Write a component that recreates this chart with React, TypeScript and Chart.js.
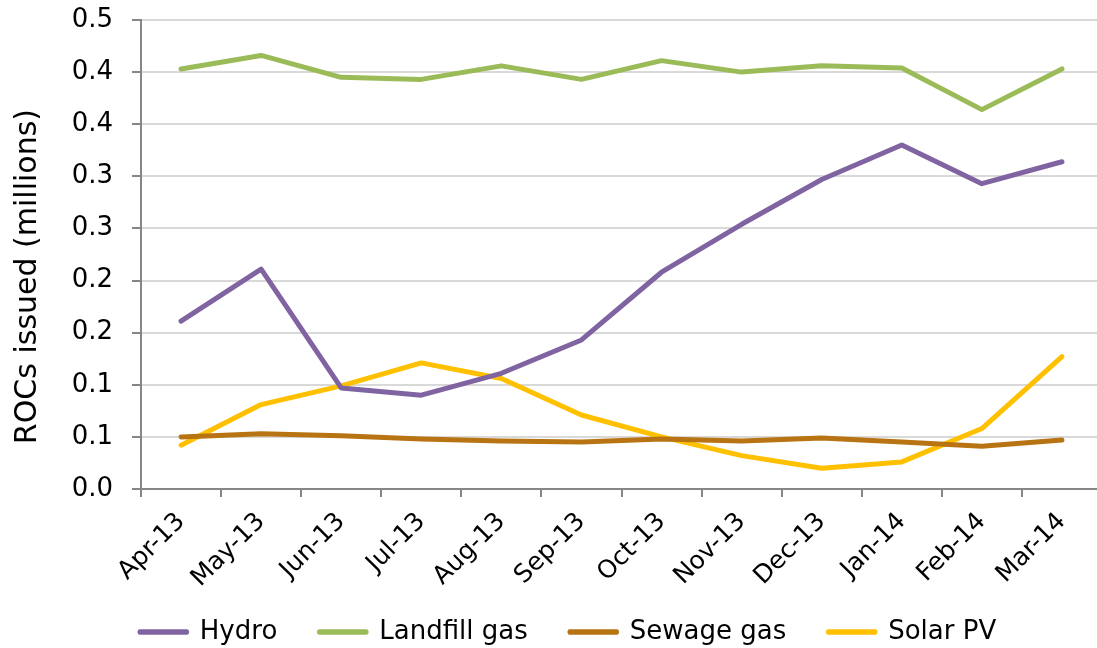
import React, { useEffect, useRef } from "react";
import { Chart, registerables } from "chart.js";

Chart.register(...registerables);

const months = ["Apr-13", "May-13", "Jun-13", "Jul-13", "Aug-13", "Sep-13", "Oct-13", "Nov-13", "Dec-13", "Jan-14", "Feb-14", "Mar-14"];
const hydro = [0.161, 0.211, 0.097, 0.090, 0.111, 0.143, 0.208, 0.254, 0.297, 0.330, 0.293, 0.314];
const landfillGas = [0.403, 0.416, 0.395, 0.393, 0.406, 0.393, 0.411, 0.400, 0.406, 0.404, 0.364, 0.403];
const sewageGas = [0.050, 0.053, 0.051, 0.048, 0.046, 0.045, 0.048, 0.046, 0.049, 0.045, 0.041, 0.047];
const solarPV = [0.042, 0.081, 0.099, 0.121, 0.106, 0.071, 0.050, 0.032, 0.020, 0.026, 0.058, 0.127];
const yTickLabels = ["0.0", "0.1", "0.1", "0.2", "0.2", "0.3", "0.3", "0.4", "0.4", "0.5"];
const yTitle = "ROCs issued (millions)";

const FONT = "'DejaVu Sans', Verdana, sans-serif";
const CANVAS_W = 1110;
const CANVAS_H = 677;

const legendShift = {
  id: "legendShift",
  afterLayout(chart: any) {
    const l = chart.legend;
    if (!l) return;
    l.left += 12;
    l.right += 12;
    l.top -= 22;
    l.bottom -= 22;
  },
};

export default function App() {
  const ref = useRef<HTMLCanvasElement | null>(null);
  useEffect(() => {
    document.body.style.overflow = "hidden";
    const ctx = ref.current!;
    const mk = (label: string, data: number[], color: string) => ({
      label,
      data,
      borderColor: color,
      backgroundColor: color,
      borderWidth: 5,
      pointRadius: 0,
      pointHoverRadius: 0,
      tension: 0,
      borderCapStyle: "round" as const,
      borderJoinStyle: "round" as const,
    });
    const chart = new Chart(ctx, {
      type: "line",
      data: {
        labels: months,
        datasets: [
          mk("Hydro", hydro, "#8064A2"),
          mk("Landfill gas", landfillGas, "#9BBB59"),
          mk("Sewage gas", sewageGas, "#B87412"),
          mk("Solar PV", solarPV, "#FFC000"),
        ],
      },
      options: {
        animation: false,
        responsive: false,
        layout: { padding: { left: 10, right: 8, top: 20, bottom: 0 } },
        plugins: {
          tooltip: { enabled: false },
          legend: {
            position: "bottom",
            labels: {
              boxWidth: 47,
              boxHeight: 1,
              padding: 42,
              color: "#000",
              font: { family: FONT, size: 26 },
              generateLabels: (c: any) =>
                Chart.defaults.plugins.legend.labels.generateLabels(c).map((it: any) => ({
                  ...it,
                  lineWidth: 4.5,
                  fillStyle: it.strokeStyle,
                  lineJoin: "round",
                  lineCap: "round",
                })),
            },
          },
        },
        scales: {
          x: {
            type: "category",
            offset: true,
            afterFit: (s: any) => {
              s.height = 110;
            },
            grid: {
              offset: true,
              drawOnChartArea: false,
              drawTicks: true,
              tickLength: 8,
              tickColor: "#868686",
              lineWidth: 2,
            },
            border: { color: "#868686", width: 2 },
            ticks: {
              autoSkip: false,
              minRotation: 45,
              maxRotation: 45,
              padding: 10,
              color: "#000",
              font: { family: FONT, size: 25 },
            },
          },
          y: {
            min: 0,
            max: 0.45,
            afterFit: (s: any) => {
              s.width = 131;
              s.paddingTop = 0;
              s.paddingBottom = 0;
            },
            ticks: {
              stepSize: 0.05,
              padding: 19,
              color: "#000",
              font: { family: FONT, size: 26 },
              callback: (_v: any, i: number) => yTickLabels[i],
            },
            grid: {
              color: "#D9D9D9",
              lineWidth: 2,
              tickColor: "#868686",
              tickLength: 9,
              drawTicks: true,
            },
            border: { color: "#868686", width: 2 },
            title: {
              display: true,
              text: yTitle + "\u00a0\u00a0\u00a0\u00a0\u2009",
              color: "#000",
              font: { family: FONT, size: 30 },
              padding: { top: 0, bottom: 0 },
            },
          },
        },
      },
      plugins: [legendShift],
    });
    return () => chart.destroy();
  }, []);
  return (
    <div style={{ position: "absolute", left: 0, top: 0, width: 1097, height: 648, overflow: "hidden", background: "#fff" }}>
      <canvas ref={ref} width={CANVAS_W} height={CANVAS_H} style={{ display: "block" }} />
    </div>
  );
}
